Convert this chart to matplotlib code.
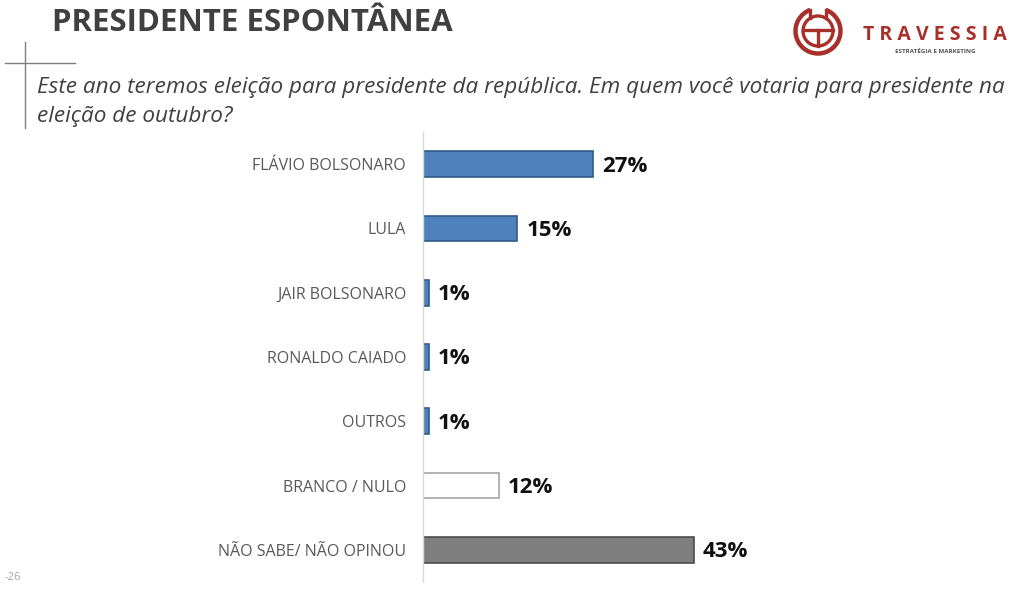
import matplotlib.pyplot as plt
from matplotlib.patches import Circle, Arc

categories = ["FLÁVIO BOLSONARO", "LULA", "JAIR BOLSONARO", "RONALDO CAIADO",
              "OUTROS", "BRANCO / NULO", "NÃO SABE/ NÃO OPINOU"]
values = [27, 15, 1, 1, 1, 12, 43]
bar_colors = ["#4F81BD", "#4F81BD", "#4F81BD", "#4F81BD", "#4F81BD", "#FFFFFF", "#7F7F7F"]
edge_colors = ["#2E5C8A", "#2E5C8A", "#2E5C8A", "#2E5C8A", "#2E5C8A", "#A6A6A6", "#4D4D4D"]

title = "PRESIDENTE ESPONTÂNEA"
question = ("Este ano teremos eleição para presidente da república. Em quem você votaria para presidente na\n"
            "eleição de outubro?")

plt.rcParams['font.family'] = ['Open Sans', 'DejaVu Sans']

fig = plt.figure(figsize=(10.24, 5.97), dpi=100)
fig.patch.set_facecolor("white")

ax = fig.add_axes([0.413, 0.025, 0.554, 0.754])
y = list(range(len(categories)))
ax.barh(y, values, height=0.4, color=bar_colors, edgecolor=edge_colors, linewidth=1.2)

for i, v in enumerate(values):
    ax.text(v + 1.4, i + 0.03, f"{v}%", va="center", ha="left", fontsize=16,
            fontweight="bold", color="#111111")

ax.set_xlim(0, 90)
ax.set_ylim(len(categories) - 0.5, -0.5)
ax.set_yticks(y)
ax.set_yticklabels(categories, fontsize=11.5, color="#595959")
ax.tick_params(axis="y", length=0, pad=12)
ax.set_xticks([])
for s in ["top", "right", "bottom"]:
    ax.spines[s].set_visible(False)
ax.spines["left"].set_color("#D9D9D9")
ax.spines["left"].set_linewidth(1)
ax.patch.set_alpha(0)

# title and question
fig.text(52 / 1024, 1 - 23 / 597, title, fontsize=22.5, fontweight="bold",
         color="#404040", va="center", ha="left")
fig.text(37 / 1024, 1 - 102 / 597, question, fontsize=16.2, style="italic",
         color="#404040", va="center", ha="left", linespacing=1.45)

# corner marks
fig.add_artist(plt.Line2D([5 / 1024, 75 / 1024], [1 - 63 / 597, 1 - 63 / 597],
                          color="#7F7F7F", lw=1))
fig.add_artist(plt.Line2D([25 / 1024, 25 / 1024], [1 - 42 / 597, 1 - 128 / 597],
                          color="#7F7F7F", lw=1))

# logo
red = "#A8302A"
logo = fig.add_axes([793 / 1024, 1 - 56 / 597, 50 / 1024, 50 / 597])
logo.set_xlim(-1, 1)
logo.set_ylim(-1, 1)
logo.set_aspect("equal")
logo.axis("off")
logo.add_patch(Arc((0, 0), 1.8, 1.8, theta1=110, theta2=70, ec=red, lw=3.2))
logo.add_patch(Circle((0, 0), 0.6, fill=False, ec=red, lw=2.4))
logo.plot([-0.31, -0.31], [0.85, 0.52], color=red, lw=2.4)
logo.plot([0.31, 0.31], [0.85, 0.52], color=red, lw=2.4)
logo.plot([-0.6, 0.6], [0.05, 0.05], color=red, lw=2.4)
logo.plot([0, 0], [0.05, -0.6], color=red, lw=2.4)

fig.text(935 / 1024, 1 - 35 / 597, "T R A V E S S I A", fontsize=14, fontweight="bold",
         color=red, ha="center", va="center")
fig.text(935 / 1024, 1 - 51 / 597, "ESTRATÉGIA E MARKETING", fontsize=4.5, fontweight="bold",
         color="#555555", ha="center", va="center")

fig.text(5 / 1024, 1 - 578 / 597, "-26", fontsize=8, color="#A6A6A6", ha="left", va="center")

fig.savefig("out.png", dpi=100)
